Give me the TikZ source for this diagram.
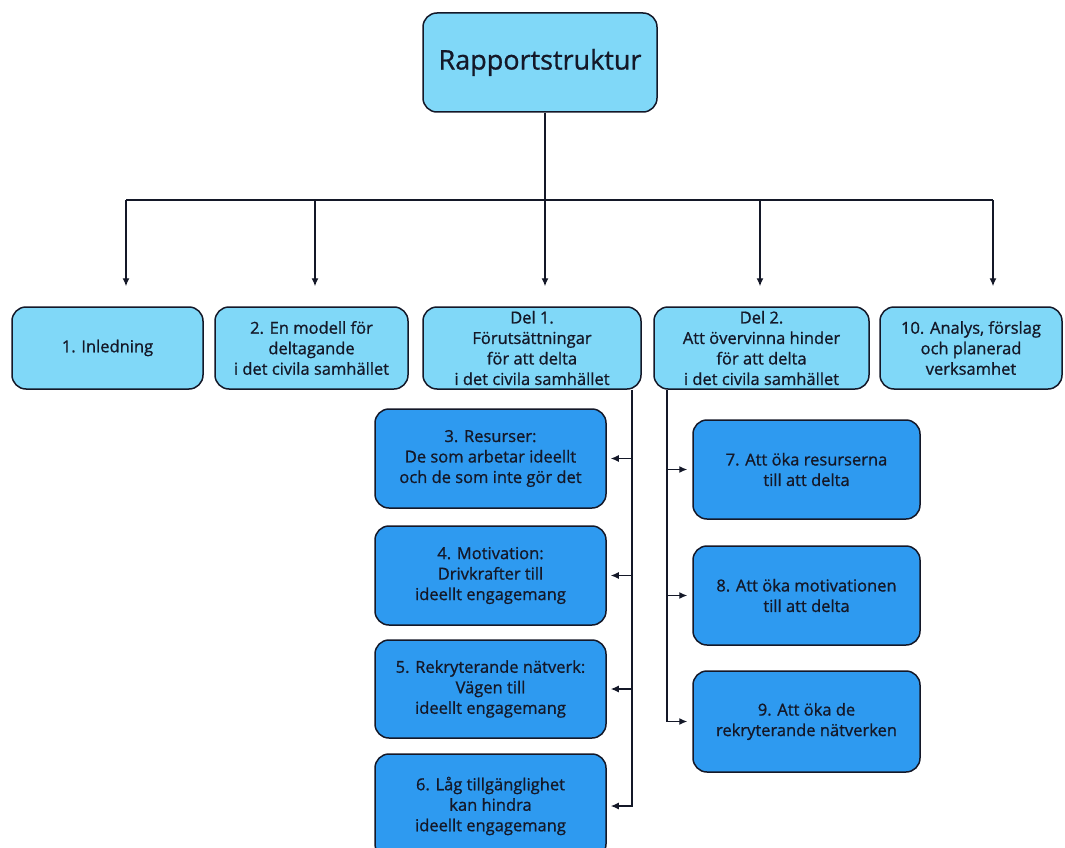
\documentclass[tikz,border=0pt]{standalone}
\usepackage{fontspec}
\setmainfont{Open Sans}[BoldFont={Open Sans}, BoldFeatures={FakeBold=0.9}]
\usetikzlibrary{arrows.meta}
\definecolor{lightbox}{RGB}{128,216,248}
\definecolor{darkbox}{RGB}{46,154,240}
\definecolor{txt}{RGB}{20,24,40}
\tikzset{
  box/.style={draw=txt, line width=1.5pt, rounded corners=14pt, align=center, text=txt, font=\bfseries\fontsize{16.5}{20.5}\selectfont, inner sep=2pt},
  lbox/.style={box, fill=lightbox},
  dbox/.style={box, fill=darkbox},
  conn/.style={draw=txt, line width=1.3pt},
  arr/.style={conn, -{Latex[length=8pt,width=7pt]}}
}
\begin{document}
\begin{tikzpicture}[x=1pt,y=-1pt]
\useasboundingbox (0,0) rectangle (1065,848);
\clip (0,0) rectangle (1065,848);
\fill[white] (0,0) rectangle (1065,848);
% top
\node[lbox, minimum width=234pt, minimum height=99pt, font=\bfseries\fontsize{27}{32}\selectfont] (top) at (540,62.5) {Rapportstruktur};
% row 2
\node[lbox, minimum width=191pt, minimum height=82pt] (b1) at (107.5,348) {1. Inledning};
\node[lbox, minimum width=193pt, minimum height=82pt] (b2) at (311.5,348) {2. En modell för\\deltagande\\i det civila samhället};
\node[lbox, minimum width=218pt, minimum height=82pt] (d1) at (532,348) {Del 1.\\Förutsättningar\\för att delta\\i det civila samhället};
\node[lbox, minimum width=215pt, minimum height=82pt] (d2) at (761.5,348) {Del 2.\\Att övervinna hinder\\för att delta\\i det civila samhället};
\node[lbox, minimum width=182pt, minimum height=82pt] (b10) at (971,348) {10. Analys, förslag\\och planerad\\verksamhet};
% left column
\node[dbox, minimum width=231pt, minimum height=99pt] (b3) at (490.5,458.5) {3. Resurser:\\De som arbetar ideellt\\och de som inte gör det};
\node[dbox, minimum width=231pt, minimum height=99pt] (b4) at (490.5,575.5) {4. Motivation:\\Drivkrafter till\\ideellt engagemang};
\node[dbox, minimum width=231pt, minimum height=98pt] (b5) at (490.5,689) {5. Rekryterande nätverk:\\Vägen till\\ideellt engagemang};
\node[dbox, minimum width=231pt, minimum height=104pt] (b6) at (490.5,806) {6. Låg tillgänglighet\\kan hindra\\ideellt engagemang};
% right column
\node[dbox, minimum width=227pt, minimum height=99pt] (b7) at (806.5,469.5) {7. Att öka resurserna\\till att delta};
\node[dbox, minimum width=227pt, minimum height=99pt] (b8) at (806.5,595.5) {8. Att öka motivationen\\till att delta};
\node[dbox, minimum width=227pt, minimum height=101pt] (b9) at (806.5,721.5) {9. Att öka de\\rekryterande nätverken};
% top connectors
\coordinate (hub) at (545,200);
\coordinate (hl) at (126,200);
\coordinate (hr) at (993,200);
\coordinate (h2) at (315,200);
\coordinate (h4) at (760,200);
\draw[conn] (top.south -| hub) -- (hub);
\draw[conn] (hl) -- (hr);
\draw[arr] (hl) -- ([yshift=20pt]b1.north -| hl);
\draw[arr] (h2) -- ([yshift=20pt]b2.north -| h2);
\draw[arr] (hub) -- ([yshift=20pt]d1.north -| hub);
\draw[arr] (h4) -- ([yshift=20pt]d2.north -| h4);
\draw[arr] (hr) -- ([yshift=20pt]b10.north -| hr);
% left spine
\coordinate (ls) at (632,0);
\draw[arr] (d1.south -| ls) |- ([xshift=4pt]b6.east);
\draw[arr] (b3.east -| ls) -- ([xshift=4pt]b3.east);
\draw[arr] (b4.east -| ls) -- ([xshift=4pt]b4.east);
\draw[arr] (b5.east -| ls) -- ([xshift=4pt]b5.east);
% right spine
\coordinate (rs) at (667,0);
\draw[arr] (d2.south -| rs) |- ([xshift=-5pt]b9.west);
\draw[arr] (b7.west -| rs) -- ([xshift=-5pt]b7.west);
\draw[arr] (b8.west -| rs) -- ([xshift=-5pt]b8.west);
\end{tikzpicture}
\end{document}
